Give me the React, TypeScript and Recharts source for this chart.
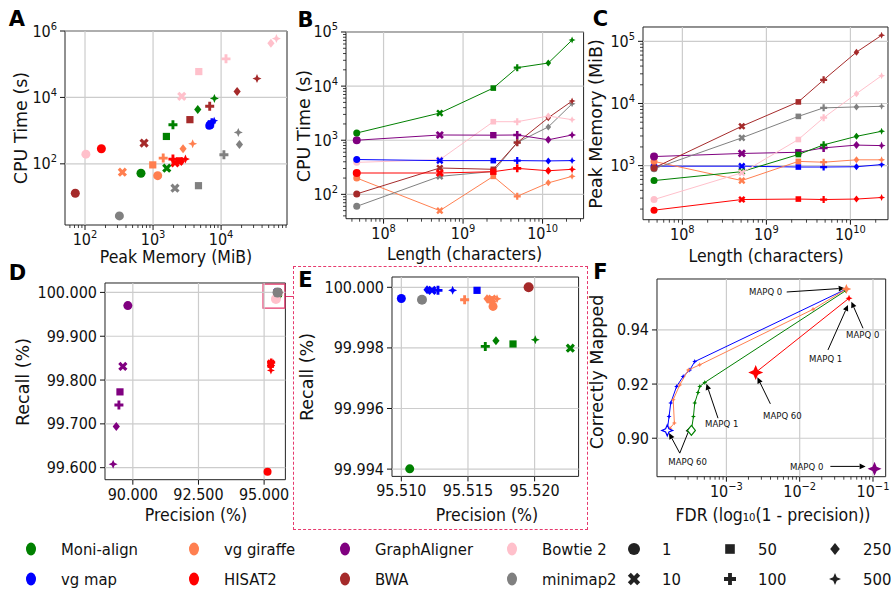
import React from 'react'
import { ScatterChart, Scatter, XAxis, YAxis, ReferenceLine, ReferenceArea, ReferenceDot } from 'recharts'

const FONT = "'DejaVu Sans Condensed', 'DejaVu Sans', sans-serif"
const FONT_V = "'DejaVu Sans', sans-serif"
const BOX = '#e63a6e'
const GRID = '#cccccc'
const INK = '#111'

const GREEN = 'green'
const BLUE = 'blue'
const CORAL = 'coral'
const RED = 'red'
const PURPLE = 'purple'
const BROWN = 'brown'
const PINK = 'pink'
const GRAY = 'gray'

const haplotypes = [1, 10, 50, 100, 250, 500]
const lengths = [4.6e7, 5.1e8, 2.4e9, 4.8e9, 1.18e10, 2.35e10]

// A: peak memory (MiB) vs CPU time (s)
const aMemMoni = [664, 1590, 1570, 1960, 4540, 7970]
const aCpuMoni = [52, 74, 668, 1510, 4360, 9300]
const aMemVgmap = [6700, 6900, 7100, 7300, 7100, 7900]
const aCpuVgmap = [1400, 1500, 1650, 1800, 1600, 2000]
const aMemGiraffe = [1170, 354, 990, 1410, 2760, 3820]
const aCpuGiraffe = [44, 56, 93, 149, 284, 402]
const aMemHisat = [174, 2100, 2450, 1960, 2600, 2990]
const aCpuHisat = [284, 107, 123, 139, 117, 139]
const aMemBwa = [72, 738, 3480, 6800, 17200, 33700]
const aCpuBwa = [13, 422, 2140, 5400, 15000, 37000]
const aMemBowtie = [103, 2640, 4700, 11800, 54000, 65000]
const aCpuBowtie = [196, 10800, 60000, 145000, 430000, 590000]
const aMemMinimap = [320, 2100, 4650, 11000, 18600, 17900]
const aCpuMinimap = [2.7, 18.5, 22, 187, 383, 880]

// B: CPU time (s) vs length
const bMoni = [1360, 3180, 9200, 21900, 26700, 71000]
const bGraph = [1000, 1250, 1240, 1250, 1020, 1250]
const bVgmap = [440, 420, 420, 420, 415, 420]
const bBowtie = [390, 437, 2200, 2200, 2800, 2400]
const bHisat = [248, 248, 262, 302, 273, 290]
const bBwa = [102, 307, 290, 900, 2600, 5300]
const bMinimap = [60, 215, 265, 910, 1760, 4700]
const bGiraffe = [200, 50, 215, 92, 163, 215]

// C: peak memory (MiB) vs length
const cBwa = [920, 4300, 10600, 24000, 67000, 125000]
const cBowtie = [285, 766, 2630, 5900, 14400, 28000]
const cMinimap = [890, 2800, 6200, 8500, 8800, 9000]
const cMoni = [575, 800, 1510, 2160, 2960, 3570]
const cGraph = [1400, 1570, 1640, 1930, 2140, 2100]
const cGiraffe = [1170, 575, 1170, 1135, 1240, 1240]
const cVgmap = [980, 980, 950, 950, 960, 1040]
const cHisat = [192, 285, 290, 285, 290, 307]

// D / E: precision (%) vs recall (%)
const dPrecGraph = [89.81, 89.62, 89.51, 89.47, 89.37, 89.25]
const dRecGraph = [99.97, 99.831, 99.773, 99.743, 99.694, 99.608]
const dPrecHisat = [95.13, 95.26, 95.25, 95.27, 95.24, 95.26]
const dRecHisat = [99.591, 99.838, 99.835, 99.84, 99.832, 99.822]
const dPrecBowtie = [95.45]
const dRecBowtie = [99.985]

const ePrecMoni = [95.51063, 95.52268, 95.51838, 95.5163, 95.5171, 95.52005]
const eRecMoni = [99.99401, 99.99799, 99.99813, 99.99805, 99.99824, 99.99827]
const ePrecVgmap = [95.51, 95.5123, 95.51568, 95.51275, 95.51193, 95.51385]
const eRecVgmap = [99.99963, 99.9999, 99.9999, 99.9999, 99.99992, 99.9999]
const ePrecGiraffe = [95.51688, 95.5168, 95.51668, 95.51475, 95.51643, 95.51718]
const eRecGiraffe = [99.99937, 99.99961, 99.99959, 99.99959, 99.99962, 99.99962]
const ePrecMinimap = [95.51155]
const eRecMinimap = [99.99959]
const ePrecBwa = [95.51955]
const eRecBwa = [100.0]

// F: FDR vs correctly mapped, by MAPQ threshold
const fVgmapX = [0.0433, 0.00037, 0.000316, 0.000257, 0.000209, 0.000174, 0.000165, 0.000156]
const fVgmapY = [0.9551, 0.9283, 0.9252, 0.9228, 0.9191, 0.913, 0.908, 0.9029]
const fGiraffeX = [0.0433, 0.0152, 0.000433, 0.000302, 0.000231, 0.000188, 0.000195, 0.00017]
const fGiraffeY = [0.9551, 0.9476, 0.9271, 0.9252, 0.9197, 0.9142, 0.9056, 0.9037]
const fMoniX = [0.0425, 0.000507, 0.000433, 0.00041, 0.00037, 0.000355, 0.000333]
const fMoniY = [0.9545, 0.9206, 0.9191, 0.9169, 0.913, 0.908, 0.9029]
const fHisatX = [0.0471, 0.00251]
const fHisatY = [0.9517, 0.9243]
const fGraphX = [0.105]
const fGraphY = [0.8887]

const fNoteText = ['MAPQ 0', 'MAPQ 0', 'MAPQ 1', 'MAPQ 60', 'MAPQ 1', 'MAPQ 60', 'MAPQ 0']
const fNoteX = [0.00343, 0.0724, 0.0226, 0.0058, 0.000863, 0.000296, 0.01247]
const fNoteY = [0.954, 0.9382, 0.9293, 0.9084, 0.9053, 0.8914, 0.8896]
const fTailX = [0.00665, 0.0731, 0.0243, 0.00398, 0.000768, 0.000231, 0.000231, 0.0262]
const fTailY = [0.954, 0.9406, 0.9326, 0.9127, 0.9074, 0.8945, 0.8945, 0.8896]
const fTipX = [0.0411, 0.0507, 0.0456, 0.00265, 0.000534, 0.000165, 0.000323, 0.0794]
const fTipY = [0.9554, 0.9504, 0.9492, 0.9225, 0.9201, 0.9019, 0.9043, 0.8896]

// legend
const legendTools = ['Moni-align', 'vg map', 'vg giraffe', 'HISAT2', 'GraphAligner', 'BWA', 'Bowtie 2', 'minimap2']
const legendColors = [GREEN, BLUE, CORAL, RED, PURPLE, BROWN, PINK, GRAY]

type Pt = { x: number; y: number; n: number }
const pts = (xs: number[], ys: number[], ns: number[] = haplotypes): Pt[] =>
  xs.map((x, i) => ({ x, y: ys[i], n: ns[i] }))

function Marker({ cx, cy, n, size, color, hollow }: { cx: number; cy: number; n: number; size: number; color: string; hollow?: boolean }) {
  const r = size / 2
  const fill = hollow ? '#fff' : color
  const stroke = hollow ? color : 'none'
  const sw = hollow ? 1.2 : 0
  const poly = (p: number[][]) => (
    <polygon points={p.map(([x, y]) => `${cx + x},${cy + y}`).join(' ')} fill={fill} stroke={stroke} strokeWidth={sw} />
  )
  if (n === 1) return <circle cx={cx} cy={cy} r={r} fill={fill} stroke={stroke} strokeWidth={sw} />
  if (n === 50) return <rect x={cx - r * 0.8} y={cy - r * 0.8} width={r * 1.6} height={r * 1.6} fill={fill} stroke={stroke} strokeWidth={sw} />
  if (n === 250) return poly([[0, -r], [r * 0.8, 0], [0, r], [-r * 0.8, 0]])
  if (n === 500) {
    const w = r * 0.3
    return poly([[0, -r], [w, -w], [r, 0], [w, w], [0, r], [-w, w], [-r, 0], [-w, -w]])
  }
  const t = r * 0.32
  const e = r
  const plus = [[-t, -e], [t, -e], [t, -t], [e, -t], [e, t], [t, t], [t, e], [-t, e], [-t, t], [-e, t], [-e, -t], [-t, -t]]
  if (n === 100) return poly(plus)
  const k = Math.SQRT1_2 * 1.1
  return poly(plus.map(([x, y]) => [(x - y) * k, (x + y) * k]))
}

const sup = (v: number) => {
  const e = Math.round(Math.log10(v))
  return (
    <>
      10<tspan dy={-7} fontSize={11}>{e < 0 ? '\u2212' + -e : e}</tspan>
    </>
  )
}
const fixed3 = (v: number) => v.toFixed(3)
const fixed2 = (v: number) => v.toFixed(2)

const logTicks = (lo: number, hi: number) => {
  const out: number[] = []
  for (let d = Math.floor(Math.log10(lo)); d <= Math.ceil(Math.log10(hi)); d++) {
    for (let m = 1; m < 10; m++) {
      const v = m * Math.pow(10, d)
      if (v >= lo && v <= hi) out.push(v)
    }
  }
  return out
}
const isDecade = (v: number) => Math.abs(Math.log10(v) - Math.round(Math.log10(v))) < 1e-9

type Fmt = (v: number) => React.ReactNode | null

const xTick = (fmt: Fmt) => (p: any) => {
  const v = p.payload.value
  const lab = fmt(v)
  const major = lab !== null
  return (
    <g>
      <line x1={p.x} x2={p.x} y1={p.y} y2={p.y + (major ? 5 : 3)} stroke={INK} strokeWidth={major ? 1 : 0.8} />
      {major && (
        <text x={p.x} y={p.y + 20} textAnchor="middle" fontSize={16} fontFamily={FONT} fill={INK}>
          {lab}
        </text>
      )}
    </g>
  )
}
const yTick = (fmt: Fmt) => (p: any) => {
  const v = p.payload.value
  const lab = fmt(v)
  const major = lab !== null
  return (
    <g>
      <line x1={p.x} x2={p.x - (major ? 5 : 3)} y1={p.y} y2={p.y} stroke={INK} strokeWidth={major ? 1 : 0.8} />
      {major && (
        <text x={p.x - 8} y={p.y + 5.5} textAnchor="end" fontSize={16} fontFamily={FONT} fill={INK}>
          {lab}
        </text>
      )}
    </g>
  )
}

type PanelProps = {
  box: number[]
  xDomain: number[]
  yDomain: number[]
  xLog?: boolean
  yLog?: boolean
  xTicks: number[]
  yTicks: number[]
  xFmt: Fmt
  yFmt: Fmt
  xGrid: number[]
  yGrid: number[]
  children?: React.ReactNode
}

function Panel({ box, xDomain, yDomain, xLog, yLog, xTicks, yTicks, xFmt, yFmt, xGrid, yGrid, children }: PanelProps) {
  const [l, t, w, h] = box
  const PL = 70
  const PB = 32
  const PT = 22
  const PR = 22
  return (
    <div style={{ position: 'absolute', left: l - PL, top: t - PT }}>
      <ScatterChart width={w + PL + PR} height={h + PT + PB} margin={{ top: PT, right: PR, left: 0, bottom: 0 }}>
        <XAxis type="number" dataKey="x" scale={xLog ? 'log' : 'linear'} domain={xDomain} allowDataOverflow ticks={xTicks} interval={0}
          tickSize={0} tickMargin={0} tickLine={false} axisLine={false} height={PB} tick={xTick(xFmt)} />
        <YAxis type="number" dataKey="y" scale={yLog ? 'log' : 'linear'} domain={yDomain} allowDataOverflow ticks={yTicks} interval={0}
          tickSize={0} tickMargin={0} tickLine={false} axisLine={false} width={PL} tick={yTick(yFmt)} />
        {xGrid.map((v) => <ReferenceLine key={'gx' + v} x={v} stroke={GRID} strokeWidth={1.2} />)}
        {yGrid.map((v) => <ReferenceLine key={'gy' + v} y={v} stroke={GRID} strokeWidth={1.2} />)}
        <ReferenceArea x1={xDomain[0]} x2={xDomain[1]} y1={yDomain[0]} y2={yDomain[1]} fill="none" stroke="#222" strokeWidth={1} fillOpacity={0} />
        {children}
      </ScatterChart>
    </div>
  )
}

const dots = (key: string, data: Pt[], color: string, size: number, line = false) => (
  <Scatter key={key} data={data} fill={color} isAnimationActive={false}
    line={line ? { stroke: color, strokeWidth: 1 } : false}
    shape={(p: any) => <Marker cx={p.cx} cy={p.cy} n={p.payload.n} size={size} color={color} />} />
)

const Title = ({ x, y, text, rot }: { x: number; y: number; text: React.ReactNode; rot?: boolean }) => (
  <div style={{
    position: 'absolute', left: x, top: y, transform: `translate(-50%, -50%)${rot ? ' rotate(-90deg)' : ''}`,
    fontFamily: rot ? FONT_V : FONT, fontSize: 17.5, whiteSpace: 'nowrap', color: INK, lineHeight: 1,
  }}>{text}</div>
)
const Letter = ({ x, y, text }: { x: number; y: number; text: string }) => (
  <div style={{ position: 'absolute', left: x, top: y, transform: 'translate(-50%, -50%)', fontFamily: FONT_V, fontWeight: 'bold', fontSize: 21, lineHeight: 1, color: '#000' }}>{text}</div>
)

const decadeFmt: Fmt = (v) => (isDecade(v) ? sup(v) : null)

export default function App() {
  const aX = [50.8, 93000]
  const aY = [1.44, 1e6]
  const bX = [3.37e7, 3.28e10]
  const bY = [35.5, 1e5]
  const cX = [3.4e7, 2.8e10]
  const cY = [135, 170000]
  const dX = [88.94, 95.81]
  const dY = [99.5726, 100.0215]
  const eX = [95.5093, 95.5233]
  const eY = [99.99376, 100.00034]
  const fX = [1.13e-4, 0.149]
  const fY = [0.8858, 0.9588]

  const lenPts = (ys: number[]) => pts(lengths, ys)

  return (
    <div style={{ position: 'absolute', left: 0, top: 0, width: 891, height: 592, background: '#fff', overflow: 'hidden' }}>
      {/* A */}
      <Panel box={[65, 31, 222, 194]} xDomain={aX} yDomain={aY} xLog yLog
        xTicks={logTicks(aX[0], aX[1])} yTicks={[100, 1e4, 1e6]} xFmt={decadeFmt} yFmt={decadeFmt}
        xGrid={[100, 1000, 10000]} yGrid={[100, 1e4, 1e6]}>
        {dots('a-bwa', pts(aMemBwa, aCpuBwa), BROWN, 9)}
        {dots('a-bowtie', pts(aMemBowtie, aCpuBowtie), PINK, 9)}
        {dots('a-minimap', pts(aMemMinimap, aCpuMinimap), GRAY, 9)}
        {dots('a-giraffe', pts(aMemGiraffe, aCpuGiraffe), CORAL, 9)}
        {dots('a-hisat', pts(aMemHisat, aCpuHisat), RED, 9)}
        {dots('a-moni', pts(aMemMoni, aCpuMoni), GREEN, 9)}
        {dots('a-vgmap', pts(aMemVgmap, aCpuVgmap), BLUE, 8)}
      </Panel>

      {/* B */}
      <Panel box={[345.7, 32.3, 237.6, 186.7]} xDomain={bX} yDomain={bY} xLog yLog
        xTicks={logTicks(bX[0], bX[1])} yTicks={logTicks(bY[0], bY[1])} xFmt={decadeFmt} yFmt={decadeFmt}
        xGrid={[1e8, 1e9, 1e10]} yGrid={[100, 1000, 1e4, 1e5]}>
        {dots('b-giraffe', lenPts(bGiraffe), CORAL, 7, true)}
        {dots('b-minimap', lenPts(bMinimap), GRAY, 7, true)}
        {dots('b-bwa', lenPts(bBwa), BROWN, 7, true)}
        {dots('b-hisat', lenPts(bHisat), RED, 8, true)}
        {dots('b-bowtie', lenPts(bBowtie), PINK, 7, true)}
        {dots('b-vgmap', lenPts(bVgmap), BLUE, 7, true)}
        {dots('b-graph', lenPts(bGraph), PURPLE, 8, true)}
        {dots('b-moni', lenPts(bMoni), GREEN, 7, true)}
      </Panel>

      {/* C */}
      <Panel box={[643.3, 27.3, 245, 192.7]} xDomain={cX} yDomain={cY} xLog yLog
        xTicks={logTicks(cX[0], cX[1])} yTicks={logTicks(cY[0], cY[1])} xFmt={decadeFmt} yFmt={decadeFmt}
        xGrid={[1e8, 1e9, 1e10]} yGrid={[1000, 1e4, 1e5]}>
        {dots('c-hisat', lenPts(cHisat), RED, 7, true)}
        {dots('c-vgmap', lenPts(cVgmap), BLUE, 7, true)}
        {dots('c-giraffe', lenPts(cGiraffe), CORAL, 7, true)}
        {dots('c-graph', lenPts(cGraph), PURPLE, 8, true)}
        {dots('c-moni', lenPts(cMoni), GREEN, 7, true)}
        {dots('c-bowtie', lenPts(cBowtie), PINK, 7, true)}
        {dots('c-minimap', lenPts(cMinimap), GRAY, 7, true)}
        {dots('c-bwa', lenPts(cBwa), BROWN, 7, true)}
      </Panel>

      {/* D */}
      <Panel box={[105.3, 283.3, 180.4, 196.7]} xDomain={dX} yDomain={dY}
        xTicks={[90, 92.5, 95]} yTicks={[99.6, 99.7, 99.8, 99.9, 100]} xFmt={fixed3} yFmt={fixed3}
        xGrid={[90, 92.5, 95]} yGrid={[99.6, 99.7, 99.8, 99.9, 100]}>
        {dots('d-graph', pts(dPrecGraph, dRecGraph), PURPLE, 9)}
        {dots('d-hisat', pts(dPrecHisat, dRecHisat), RED, 8)}
        {dots('d-moni', pts(ePrecMoni, eRecMoni), GREEN, 9)}
        {dots('d-vgmap', pts(ePrecVgmap, eRecVgmap), BLUE, 9)}
        {dots('d-giraffe', pts(ePrecGiraffe, eRecGiraffe), CORAL, 9)}
        {dots('d-bwa', pts(ePrecBwa, eRecBwa), BROWN, 9)}
        {dots('d-bowtie', pts(dPrecBowtie, dRecBowtie), PINK, 10)}
        {dots('d-minimap', pts(ePrecMinimap, eRecMinimap), GRAY, 10)}
        <ReferenceArea x1={94.96} x2={95.79} y1={99.964} y2={100.019} fill="none" fillOpacity={0} stroke={BOX} strokeWidth={1.3} />
      </Panel>

      {/* E */}
      <Panel box={[391.7, 277.3, 186.6, 199.4]} xDomain={eX} yDomain={eY}
        xTicks={[95.51, 95.515, 95.52]} yTicks={[99.994, 99.996, 99.998, 100]} xFmt={fixed3} yFmt={fixed3}
        xGrid={[95.51, 95.515, 95.52]} yGrid={[99.994, 99.996, 99.998, 100]}>
        {dots('e-moni', pts(ePrecMoni, eRecMoni), GREEN, 9)}
        {dots('e-vgmap', pts(ePrecVgmap, eRecVgmap), BLUE, 9)}
        {dots('e-giraffe', pts(ePrecGiraffe, eRecGiraffe), CORAL, 9)}
        {dots('e-minimap', pts(ePrecMinimap, eRecMinimap), GRAY, 10)}
        {dots('e-bwa', pts(ePrecBwa, eRecBwa), BROWN, 10)}
      </Panel>

      {/* F */}
      <Panel box={[657.3, 279, 228.7, 197.7]} xDomain={fX} yDomain={fY} xLog
        xTicks={logTicks(fX[0], fX[1])} yTicks={[0.9, 0.92, 0.94]} xFmt={decadeFmt} yFmt={fixed2}
        xGrid={[1e-3, 1e-2, 1e-1]} yGrid={[0.9, 0.92, 0.94]}>
        {dots('f-vgmap', pts(fVgmapX, fVgmapY, fVgmapX.map(() => 500)), BLUE, 5, true)}
        {dots('f-giraffe', pts(fGiraffeX, fGiraffeY, fGiraffeX.map(() => 500)), CORAL, 5, true)}
        {dots('f-moni', pts(fMoniX, fMoniY, fMoniX.map(() => 500)), GREEN, 5, true)}
        {dots('f-hisat', pts(fHisatX, fHisatY, [500, 500]), RED, 7, true)}
        <Scatter data={pts(fHisatX.slice(-1), fHisatY.slice(-1), [500])} isAnimationActive={false}
          shape={(p: any) => <Marker cx={p.cx} cy={p.cy} n={500} size={15} color={RED} />} />
        <Scatter data={pts(fGiraffeX.slice(0, 1), fGiraffeY.slice(0, 1), [500])} isAnimationActive={false}
          shape={(p: any) => <Marker cx={p.cx} cy={p.cy} n={500} size={10} color={CORAL} />} />
        <Scatter data={pts(fMoniX.slice(-1), fMoniY.slice(-1), [250])} isAnimationActive={false}
          shape={(p: any) => <Marker cx={p.cx} cy={p.cy} n={250} size={10} color={GREEN} hollow />} />
        <Scatter data={pts(fVgmapX.slice(-1), fVgmapY.slice(-1), [500])} isAnimationActive={false}
          shape={(p: any) => <Marker cx={p.cx} cy={p.cy} n={500} size={11} color={BLUE} hollow />} />
        <Scatter data={pts(fGraphX, fGraphY, [500])} isAnimationActive={false}
          shape={(p: any) => <Marker cx={p.cx} cy={p.cy} n={500} size={14} color={PURPLE} />} />
        {fTailX.map((x, i) => (
          <ReferenceLine key={'arr' + i} segment={[{ x, y: fTailY[i] }, { x: fTipX[i], y: fTipY[i] }]}
            shape={(p: any) => {
              const a = Math.atan2(p.y2 - p.y1, p.x2 - p.x1)
              const L = 6
              const W = 2.8
              const bx = p.x2 - L * Math.cos(a)
              const by = p.y2 - L * Math.sin(a)
              return (
                <g>
                  <line x1={p.x1} y1={p.y1} x2={bx} y2={by} stroke="#000" strokeWidth={1} />
                  <polygon fill="#000" points={`${p.x2},${p.y2} ${bx - W * Math.sin(a)},${by + W * Math.cos(a)} ${bx + W * Math.sin(a)},${by - W * Math.cos(a)}`} />
                </g>
              )
            }} />
        ))}
        {fNoteText.map((s, i) => (
          <ReferenceDot key={'note' + i} x={fNoteX[i]} y={fNoteY[i]} r={0}
            shape={(p: any) => (
              <text x={p.cx} y={p.cy + 3.5} textAnchor="middle" fontSize={9.5} fontFamily={FONT} fill={INK}>{s}</text>
            )} />
        ))}
      </Panel>

      {/* link box D -> E */}
      <div style={{ position: 'absolute', left: 286, top: 296, width: 7, height: 0, borderTop: `1.3px solid ${BOX}` }} />
      <div style={{ position: 'absolute', left: 293, top: 266, width: 295, height: 264, border: `1.3px dashed ${BOX}`, boxSizing: 'border-box' }} />

      <Title x={21.7} y={128} text="CPU Time (s)" rot />
      <Title x={176} y={258} text="Peak Memory (MiB)" />
      <Title x={305} y={126} text="CPU Time (s)" rot />
      <Title x={464.5} y={255} text="Length (characters)" />
      <Title x={596.7} y={124} text="Peak Memory (MiB)" rot />
      <Title x={766} y={256.7} text="Length (characters)" />
      <Title x={24} y={381.7} text="Recall (%)" rot />
      <Title x={196} y={516} text="Precision (%)" />
      <Title x={308.3} y={376.7} text="Recall (%)" rot />
      <Title x={487} y={516} text="Precision (%)" />
      <Title x={598.3} y={371.7} text="Correctly Mapped" rot />
      <Title x={773} y={516} text="FDR (log₁₀(1 - precision))" />

      <Letter x={17} y={19} text="A" />
      <Letter x={305.5} y={20} text="B" />
      <Letter x={600.5} y={18.5} text="C" />
      <Letter x={17.5} y={272.5} text="D" />
      <Letter x={305.5} y={280} text="E" />
      <Letter x={600.5} y={271.5} text="F" />

      <svg style={{ position: 'absolute', left: 0, top: 530 }} width={891} height={62}>
        {legendTools.map((name, i) => {
          const mx = [31, 194, 345, 512][Math.floor(i / 2)]
          const my = i % 2 === 0 ? 19 : 49
          return (
            <g key={name}>
              <ellipse cx={mx} cy={my} rx={5} ry={6.5} fill={legendColors[i]} />
              <text x={mx + 30} y={my + 6} fontSize={16.5} fontFamily={FONT} fill={INK}>{name}</text>
            </g>
          )
        })}
        {haplotypes.map((n, i) => {
          const mx = [634, 730, 835][Math.floor(i / 2)]
          const my = i % 2 === 0 ? 19 : 49
          return (
            <g key={'h' + n}>
              <Marker cx={mx} cy={my} n={n} size={12} color="#222" />
              <text x={mx + 28} y={my + 6} fontSize={16.5} fontFamily={FONT} fill={INK}>{n}</text>
            </g>
          )
        })}
      </svg>
    </div>
  )
}
